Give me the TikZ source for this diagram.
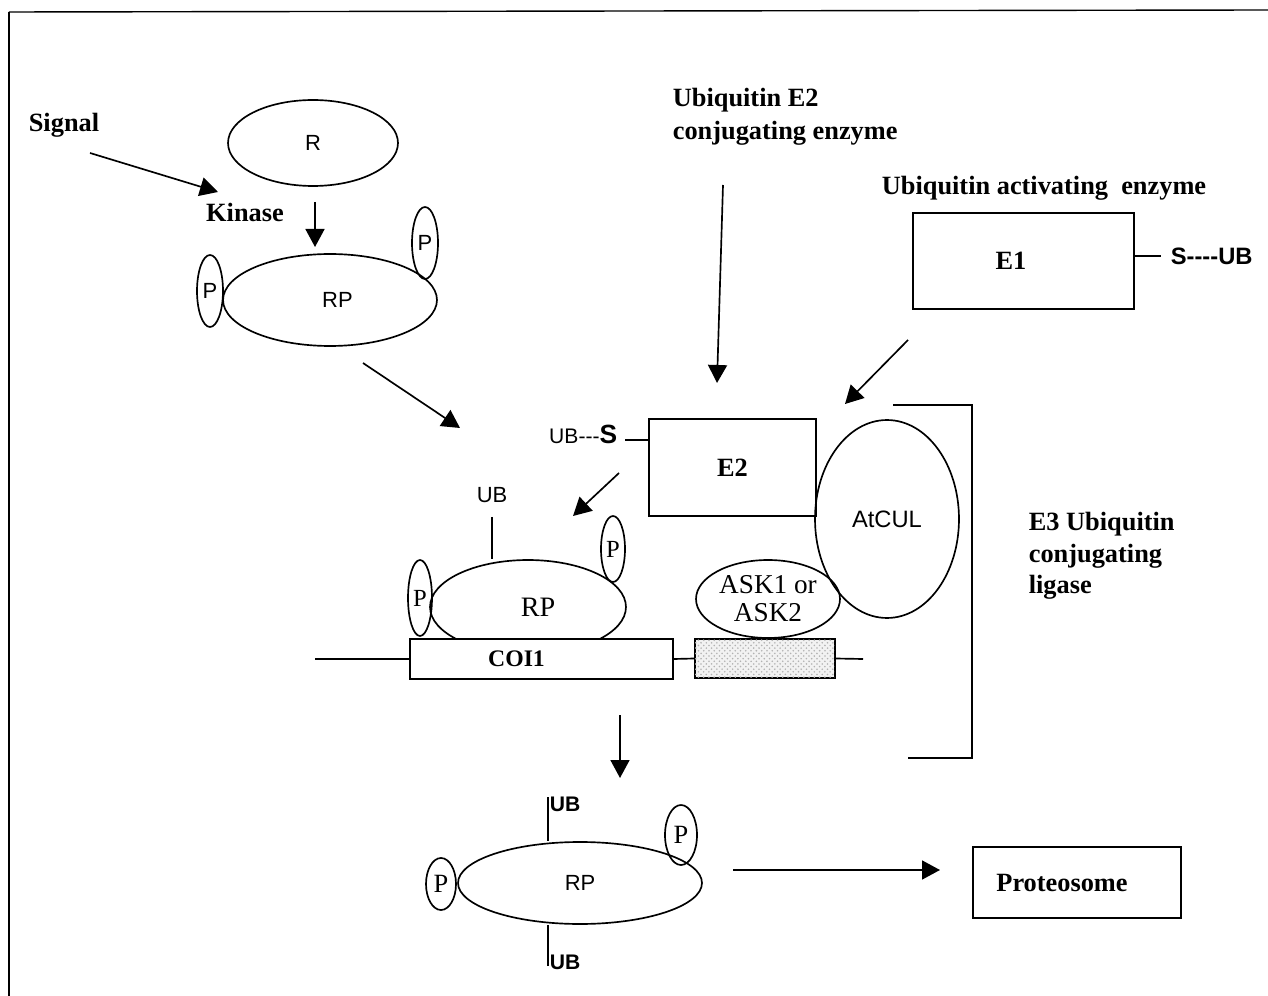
\documentclass[tikz,border=0pt]{standalone}
\usepackage{fontspec}
\setmainfont{Liberation Serif}
\setsansfont{Liberation Sans}
\usetikzlibrary{arrows.meta,positioning,shapes.geometric,patterns}

\begin{document}
\begin{tikzpicture}[x=0.02cm, y=-0.02cm, line width=0.95pt,
    blob/.style={draw, ellipse, inner sep=0pt},
    enz/.style={draw, rectangle, inner sep=0pt, fill=white},
    lbl/.style={inner sep=0pt, align=left, font=\fontsize{15}{18.5}\selectfont\bfseries},
    tag/.style={inner sep=0pt, font=\sffamily\fontsize{12.5}{14}\selectfont},
    ptag/.style={blob, font=\fontsize{14}{16}\selectfont},
    arr/.style={-{Triangle[length=0.36cm,width=0.38cm]}}]
  \useasboundingbox (0,0) rectangle (1268,996);

  % frame
  \draw[line width=0.8pt] (9,12) -- (1268,10);
  \draw[line width=0.8pt] (9,12) -- (9,996);

  % signal and kinase
  \node[lbl] (signal) at (64,125) {Signal};
  \node[lbl] (kinase) at (245,212) {Kinase};
  \node[blob, tag, minimum width=3.4cm, minimum height=1.72cm] (r) at (313,143) {R};
  \node[blob, tag, minimum width=4.28cm, minimum height=1.84cm] (rp) at (330,300) {\hspace{0.3cm}RP};
  \node[blob, tag, minimum width=0.52cm, minimum height=1.44cm] (pa) at (210,291) {P};
  \node[blob, tag, minimum width=0.52cm, minimum height=1.44cm] (pb) at (425,243) {P};

  \coordinate (sig-a) at (90,153);  \coordinate (sig-b) at (218,192);
  \coordinate (kin-a) at (315,202); \coordinate (kin-b) at (315,247);
  \coordinate (rp-a) at (363,363);  \coordinate (rp-b) at (460,428);
  \draw[arr] (sig-a) -- (sig-b);
  \draw[arr] (kin-a) -- (kin-b);
  \draw[arr] (rp-a) -- (rp-b);

  % E1 and E2
  \node[lbl, anchor=west] (e2lbl) at (672,117) {Ubiquitin E2\\conjugating enzyme};
  \node[lbl] (e1lbl) at (1044,188) {Ubiquitin activating~ enzyme};
  \node[enz, lbl, minimum width=4.42cm, minimum height=1.92cm] (e1) at (1023.5,261) {E1\hspace{0.5cm}};
  \node[inner sep=0pt, anchor=west, font=\sffamily\bfseries\fontsize{13.5}{15}\selectfont] (sub1) at (1170,256) {S-{}-{}-{}-UB};
  \draw (e1.east |- sub1) -- ++(26,0);

  \node[enz, lbl, minimum width=3.34cm, minimum height=1.94cm] (e2) at (732.5,467.5) {E2};
  \node[inner sep=0pt, anchor=east, font=\sffamily\fontsize{12}{14}\selectfont] (sub2) at (618,434)
    {UB-{}-{}-{\bfseries\fontsize{15}{17}\selectfont S}};
  \draw (e2.west |- 0,440) -- ++(-23,0);

  \coordinate (e2-a) at (723,185); \coordinate (e2-b) at (717,383);
  \coordinate (e1-a) at (908,340); \coordinate (e1-b) at (845,404);
  \draw[arr] (e2-a) -- (e2-b);
  \draw[arr] (e1-a) -- (e1-b);

  % E3 complex
  \node[blob, tag, font=\sffamily\fontsize{13.5}{15}\selectfont, minimum width=2.88cm, minimum height=3.96cm] (atcul) at (887,519) {AtCUL};
  \node[blob, align=center, font=\fontsize{15.5}{16}\selectfont, minimum width=2.88cm, minimum height=1.56cm] (ask) at (768,599) {ASK1 or\\ASK2};
  \node[blob, fill=white, font=\fontsize{16}{17}\selectfont, minimum width=3.92cm, minimum height=1.88cm] (rpm) at (528,607) {\hspace{0.4cm}RP};
  \node[ptag, minimum width=0.48cm, minimum height=1.52cm] (pc) at (420,598) {P};
  \node[ptag, minimum width=0.48cm, minimum height=1.32cm] (pd) at (613,549) {P};
  \node[enz, font=\fontsize{13.5}{15}\selectfont\bfseries, minimum width=5.26cm, minimum height=0.8cm] (coi) at (541.5,659) {\hspace{-1cm}COI1};
  \node[enz, fill=gray!10, postaction={pattern=crosshatch dots, pattern color=gray!60}, minimum width=2.8cm, minimum height=0.78cm] (skp) at (765,658.5) {};
  \node[tag] (ubm) at (492,495) {UB};

  \coordinate (dna-l) at (315,659); \coordinate (dna-r) at (863,659);
  \draw (dna-l) -- (coi.west);
  \draw (coi.east) -- (skp.west);
  \draw (skp.east) -- (dna-r);
  \coordinate (ubm-foot) at (492,517);
  \draw (ubm-foot) -- (ubm-foot |- rpm.north);

  \coordinate (ub-a) at (619,473); \coordinate (ub-b) at (573,516);
  \draw[arr] (ub-a) -- (ub-b);

  \coordinate (br-a) at (893,405); \coordinate (br-b) at (972,405);
  \coordinate (br-c) at (972,758); \coordinate (br-d) at (908,758);
  \draw (br-a) -- (br-b) -- (br-c) -- (br-d);
  \node[lbl, anchor=west, font=\fontsize{15}{17.9}\selectfont\bfseries] (e3lbl) at (1028,556) {E3 Ubiquitin\\conjugating\\ligase};

  % degradation
  \coordinate (dn-a) at (620,715); \coordinate (dn-b) at (620,778);
  \draw[arr] (dn-a) -- (dn-b);

  \node[blob, tag, minimum width=4.88cm, minimum height=1.64cm] (rpb) at (580,883) {RP};
  \node[ptag, font=\fontsize{15}{17}\selectfont, minimum width=0.6cm, minimum height=1.04cm] (pe) at (441,884) {P};
  \node[ptag, font=\fontsize{15}{17}\selectfont, minimum width=0.64cm, minimum height=1.2cm] (pf) at (681,835) {P};
  \node[tag, anchor=west, font=\sffamily\bfseries\fontsize{12}{14}\selectfont] (ubt) at (549,804) {UB};
  \node[tag, anchor=west, font=\sffamily\bfseries\fontsize{12}{14}\selectfont] (ubb) at (549,962) {UB};
  \coordinate (ubt-foot) at (548,797); \coordinate (ubb-foot) at (548,966);
  \draw (ubt-foot) -- (ubt-foot |- rpb.north);
  \draw (ubb-foot) -- (ubb-foot |- rpb.south);

  \node[enz, lbl, minimum width=4.16cm, minimum height=1.42cm] (prot) at (1077,882.5) {Proteosome\hspace{0.6cm}};
  \coordinate (pr-a) at (733,870); \coordinate (pr-b) at (940,870);
  \draw[arr] (pr-a) -- (pr-b);
\end{tikzpicture}
\end{document}
